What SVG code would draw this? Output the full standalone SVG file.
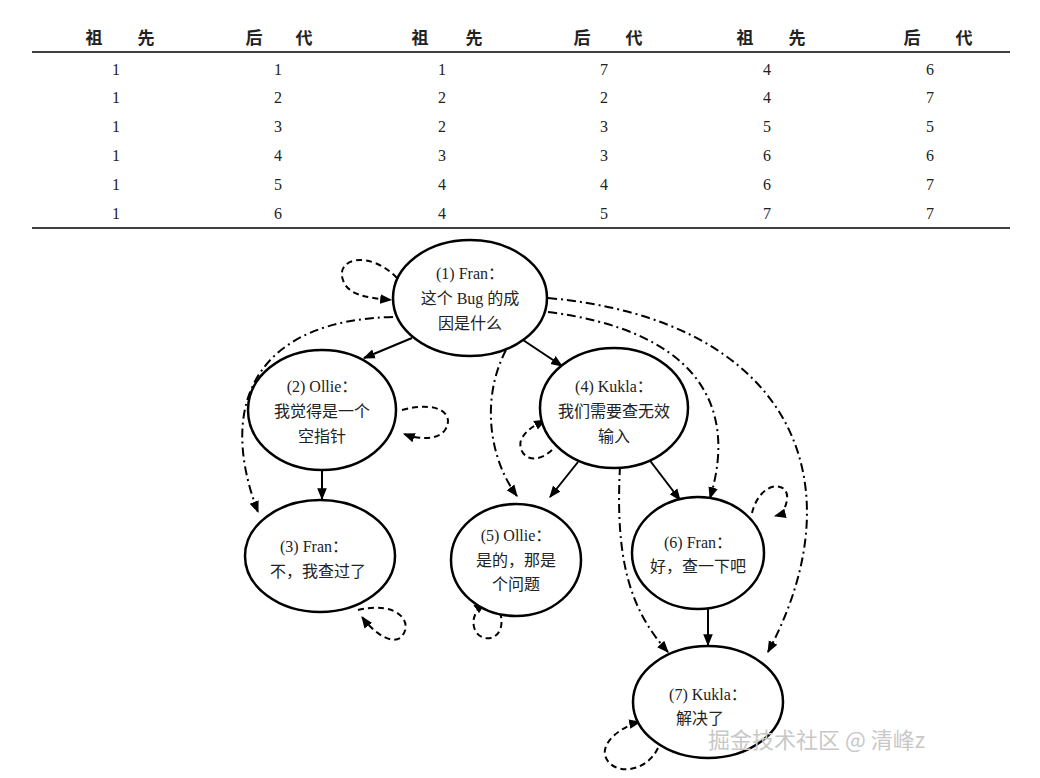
<svg xmlns="http://www.w3.org/2000/svg" width="1040" height="778" viewBox="0 0 1040 778">
<style>
text{font-family:"Liberation Serif","Noto Sans CJK SC",serif;fill:#222}
.h{font-size:17px;font-weight:bold;text-anchor:middle}
.c{font-size:16px;text-anchor:middle}
.n{font-size:16px;text-anchor:middle}
ellipse{fill:#fff;stroke:#000;stroke-width:2.5}
.s{fill:none;stroke:#000;stroke-width:2;marker-end:url(#a)}
.d{fill:none;stroke:#000;stroke-width:2;stroke-dasharray:9 4 2 4;marker-end:url(#a)}
.l{fill:none;stroke:#000;stroke-width:2;stroke-dasharray:6 4;marker-end:url(#a)}
</style>
<defs><marker id="a" viewBox="0 0 10 10" refX="9" refY="5" markerWidth="6" markerHeight="6" orient="auto" markerUnits="strokeWidth"><path d="M0,1 L10,5 L0,9 Z" fill="#000"/></marker></defs>
<rect width="1040" height="778" fill="#fff"/>
<g id="table">
<line x1="32" y1="52" x2="1010" y2="52" stroke="#000" stroke-width="1.5"/>
<line x1="32" y1="228" x2="1010" y2="228" stroke="#000" stroke-width="1.5"/>
<g class="h"><text x="94" y="44" class="h">祖</text><text x="146" y="44" class="h">先</text>
<text x="254" y="44" class="h">后</text><text x="304" y="44" class="h">代</text>
<text x="420" y="44" class="h">祖</text><text x="474" y="44" class="h">先</text>
<text x="582" y="44" class="h">后</text><text x="634" y="44" class="h">代</text>
<text x="745" y="44" class="h">祖</text><text x="797" y="44" class="h">先</text>
<text x="912" y="44" class="h">后</text><text x="964" y="44" class="h">代</text></g>
<text class="c" x="116" y="75">1</text><text class="c" x="278" y="75">1</text><text class="c" x="442" y="75">1</text><text class="c" x="604" y="75">7</text><text class="c" x="767" y="75">4</text><text class="c" x="930" y="75">6</text>
<text class="c" x="116" y="103">1</text><text class="c" x="278" y="103">2</text><text class="c" x="442" y="103">2</text><text class="c" x="604" y="103">2</text><text class="c" x="767" y="103">4</text><text class="c" x="930" y="103">7</text>
<text class="c" x="116" y="132">1</text><text class="c" x="278" y="132">3</text><text class="c" x="442" y="132">2</text><text class="c" x="604" y="132">3</text><text class="c" x="767" y="132">5</text><text class="c" x="930" y="132">5</text>
<text class="c" x="116" y="161">1</text><text class="c" x="278" y="161">4</text><text class="c" x="442" y="161">3</text><text class="c" x="604" y="161">3</text><text class="c" x="767" y="161">6</text><text class="c" x="930" y="161">6</text>
<text class="c" x="116" y="190">1</text><text class="c" x="278" y="190">5</text><text class="c" x="442" y="190">4</text><text class="c" x="604" y="190">4</text><text class="c" x="767" y="190">6</text><text class="c" x="930" y="190">7</text>
<text class="c" x="116" y="219">1</text><text class="c" x="278" y="219">6</text><text class="c" x="442" y="219">4</text><text class="c" x="604" y="219">5</text><text class="c" x="767" y="219">7</text><text class="c" x="930" y="219">7</text>
</g>
<g id="connectors">
<path class="s" d="M412,338 L364,358"/>
<path class="s" d="M520,338 L562,366"/>
<path class="s" d="M322,470 L322,499"/>
<path class="s" d="M578,462 L550,497"/>
<path class="s" d="M648,458 L680,500"/>
<path class="s" d="M708,609 L708,645"/>
<path class="d" d="M393,317 C260,320 215,400 258,512"/>
<path class="d" d="M506,350 C480,400 490,460 517,496"/>
<path class="d" d="M548,312 C690,330 740,400 710,498"/>
<path class="d" d="M548,298 C790,320 860,480 768,652"/>
<path class="d" d="M620,466 C615,560 630,610 668,652"/>
<path class="l" d="M397,278 C370,250 335,258 343,280 C348,296 370,298 391,300"/>
<path class="l" d="M402,410 C440,400 455,415 445,430 C438,440 420,440 404,434"/>
<path class="l" d="M358,610 C400,600 415,625 400,638 C388,645 370,628 362,617"/>
<path class="l" d="M500,612 C508,640 482,645 475,630 C470,618 478,608 485,603"/>
<path class="l" d="M552,450 C530,470 515,450 522,438 C528,428 536,425 545,420"/>
<path class="l" d="M752,513 C760,480 790,480 787,500 C785,512 779,515 775,516"/>
<path class="l" d="M658,748 C645,775 610,775 605,755 C602,740 625,725 640,722"/>
</g>
<g id="n1"><ellipse cx="470" cy="298" rx="77" ry="58"/><text class="n" x="470" y="279">(1) Fran：</text><text class="n" x="470" y="304">这个 Bug 的成</text><text class="n" x="470" y="329">因是什么</text></g>
<g id="n2"><ellipse cx="322" cy="410" rx="74" ry="60"/><text class="n" x="322" y="392">(2) Ollie：</text><text class="n" x="322" y="417">我觉得是一个</text><text class="n" x="322" y="442">空指针</text></g>
<g id="n3"><ellipse cx="320" cy="556" rx="75" ry="56"/><text class="n" x="314" y="552">(3) Fran：</text><text class="n" x="318" y="577">不，我查过了</text></g>
<g id="n4"><ellipse cx="614" cy="408" rx="74" ry="60"/><text class="n" x="614" y="392">(4) Kukla：</text><text class="n" x="614" y="417">我们需要查无效</text><text class="n" x="614" y="442">输入</text></g>
<g id="n5"><ellipse cx="516" cy="560" rx="65" ry="56"/><text class="n" x="516" y="541">(5) Ollie：</text><text class="n" x="516" y="566">是的，那是</text><text class="n" x="516" y="590">个问题</text></g>
<g id="n6"><ellipse cx="698" cy="553" rx="66" ry="56"/><text class="n" x="698" y="548">(6) Fran：</text><text class="n" x="698" y="572">好，查一下吧</text></g>
<g id="n7"><ellipse cx="708" cy="702" rx="75" ry="56"/><text class="n" x="708" y="700">(7) Kukla：</text><text class="n" x="700" y="724">解决了</text></g>
<text x="708" y="748" style="font-family:'Noto Sans CJK SC',sans-serif;font-size:22px;fill:#c8c8c8">掘金技术社区 @ 清峰z</text>
</svg>
